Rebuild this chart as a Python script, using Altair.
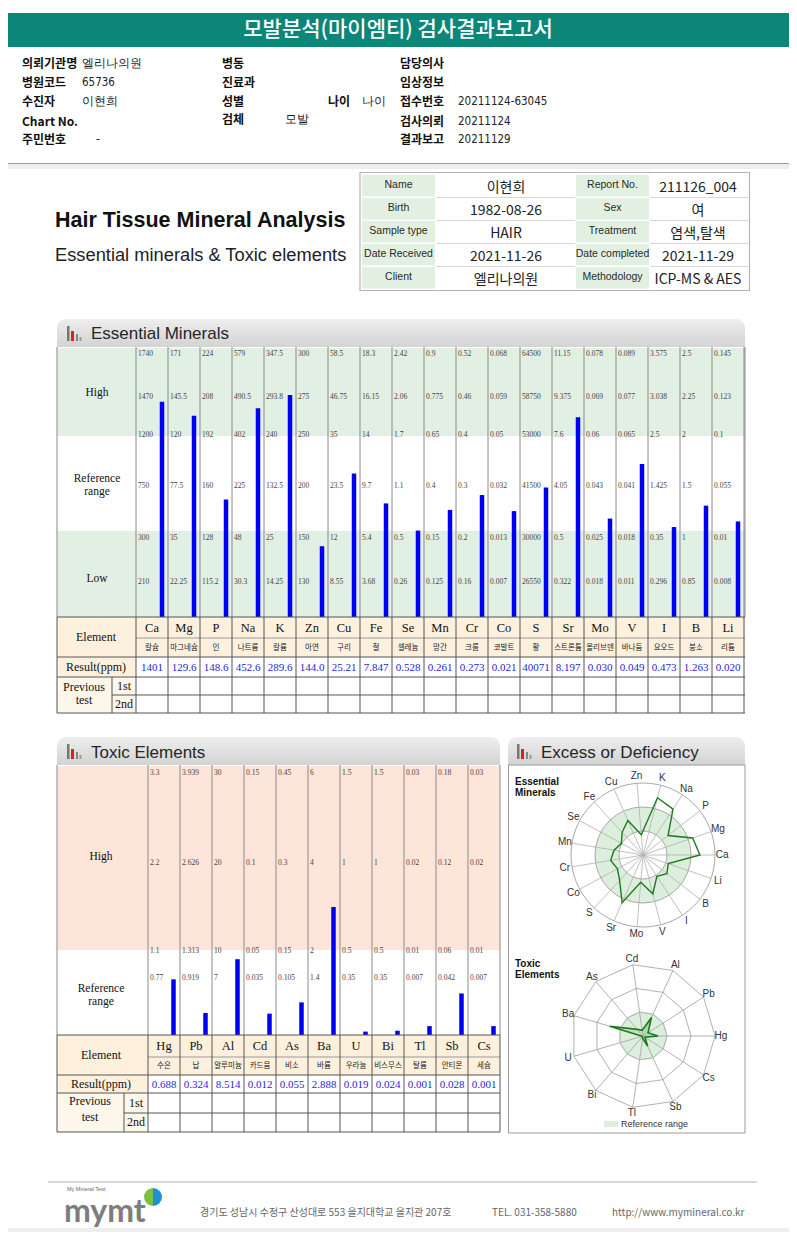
import altair as alt
import numpy as np
import pandas as pd

# ---------------- data ----------------
ess_el = ["Ca", "Mg", "P", "Na", "K", "Zn", "Cu", "Fe", "Se", "Mn", "Cr", "Co", "S", "Sr", "Mo", "V", "I", "B", "Li"]
ess_kr = ["칼슘", "마그네슘", "인", "나트륨", "칼륨", "아연", "구리", "철", "셀레늄", "망간", "크롬", "코발트", "황",
          "스트론튬", "몰리브덴", "바나듐", "요오드", "붕소", "리튬"]
ess_res_txt = ["1401", "129.6", "148.6", "452.6", "289.6", "144.0", "25.21", "7.847", "0.528", "0.261", "0.273",
               "0.021", "40071", "8.197", "0.030", "0.049", "0.473", "1.263", "0.020"]
ess_ticks = [
    ["1740", "1470", "1200", "750", "300", "210"],
    ["171", "145.5", "120", "77.5", "35", "22.25"],
    ["224", "208", "192", "160", "128", "115.2"],
    ["579", "490.5", "402", "225", "48", "30.3"],
    ["347.5", "293.8", "240", "132.5", "25", "14.25"],
    ["300", "275", "250", "200", "150", "130"],
    ["58.5", "46.75", "35", "23.5", "12", "8.55"],
    ["18.3", "16.15", "14", "9.7", "5.4", "3.68"],
    ["2.42", "2.06", "1.7", "1.1", "0.5", "0.26"],
    ["0.9", "0.775", "0.65", "0.4", "0.15", "0.125"],
    ["0.52", "0.46", "0.4", "0.3", "0.2", "0.16"],
    ["0.068", "0.059", "0.05", "0.032", "0.013", "0.007"],
    ["64500", "58750", "53000", "41500", "30000", "26550"],
    ["11.15", "9.375", "7.6", "4.05", "0.5", "0.322"],
    ["0.078", "0.069", "0.06", "0.043", "0.025", "0.018"],
    ["0.089", "0.077", "0.065", "0.041", "0.018", "0.011"],
    ["3.575", "3.038", "2.5", "1.425", "0.35", "0.296"],
    ["2.5", "2.25", "2", "1.5", "1", "0.85"],
    ["0.145", "0.123", "0.1", "0.055", "0.01", "0.008"],
]

tox_el = ["Hg", "Pb", "Al", "Cd", "As", "Ba", "U", "Bi", "Tl", "Sb", "Cs"]
tox_kr = ["수은", "납", "알루미늄", "카드뮴", "비소", "바륨", "우라늄", "비스무스", "탈륨", "안티몬", "세슘"]
tox_res_txt = ["0.688", "0.324", "8.514", "0.012", "0.055", "2.888", "0.019", "0.024", "0.001", "0.028", "0.001"]
tox_ticks = [
    ["3.3", "2.2", "1.1", "0.77"],
    ["3.939", "2.626", "1.313", "0.919"],
    ["30", "20", "10", "7"],
    ["0.15", "0.1", "0.05", "0.035"],
    ["0.45", "0.3", "0.15", "0.105"],
    ["6", "4", "2", "1.4"],
    ["1.5", "1", "0.5", "0.35"],
    ["1.5", "1", "0.5", "0.35"],
    ["0.03", "0.02", "0.01", "0.007"],
    ["0.18", "0.12", "0.06", "0.042"],
    ["0.03", "0.02", "0.01", "0.007"],
]

info_left = [("Name", "이현희"), ("Birth", "1982-08-26"), ("Sample type", "HAIR"),
             ("Date Received", "2021-11-26"), ("Client", "엘리나의원")]
info_right = [("Report No.", "211126_004"), ("Sex", "여"), ("Treatment", "염색,탈색"),
              ("Date completed", "2021-11-29"), ("Methodology", "ICP-MS & AES")]

# levels (position of a result relative to its own reference bands)
ess_res = [float(v) for v in ess_res_txt]
ess_level = []
for r, t in zip(ess_res, ess_ticks):
    th = [float(v) for v in t][::-1]
    ess_level.append(float(np.interp(r, th, [1, 2, 3, 4, 5, 6])))
tox_res = [float(v) for v in tox_res_txt]
tox_level = []
for r, t in zip(tox_res, tox_ticks):
    th = [0.0, float(t[2]), float(t[1]), float(t[0])]
    tox_level.append(float(np.interp(r, th, [0, 1, 2, 3])))

# ---------------- styles / layout ----------------
SANS = "Liberation Sans, Arial, sans-serif"
NARROW = "Liberation Sans Narrow, DejaVu Sans Condensed, Liberation Sans, sans-serif"
KR = "Noto Sans CJK KR, sans-serif"
SERIF = "Liberation Serif, DejaVu Serif, serif"
W, H = 781, 1224


def P(v):
    return v - 8


layers = []


def rect_layer(rows, **mark):
    df = pd.DataFrame(rows, columns=["x1", "x2", "y1", "y2", "f"])
    for c in ["x1", "x2", "y1", "y2"]:
        df[c] = df[c] - 8
    return alt.Chart(df).mark_rect(**mark).encode(
        x=alt.X("x1:Q", scale=None, axis=None), x2="x2:Q",
        y=alt.Y("y1:Q", scale=None, axis=None), y2="y2:Q",
        color=alt.Color("f:N", scale=None, legend=None))


def rule_layer(rows, width=1.0, **mark):
    df = pd.DataFrame(rows, columns=["x1", "y1", "x2", "y2", "c"])
    for c in ["x1", "x2", "y1", "y2"]:
        df[c] = df[c] - 8
    return alt.Chart(df).mark_rule(strokeWidth=width, **mark).encode(
        x=alt.X("x1:Q", scale=None, axis=None), x2="x2:Q",
        y=alt.Y("y1:Q", scale=None, axis=None), y2="y2:Q",
        color=alt.Color("c:N", scale=None, legend=None))


def text_layer(rows, size, font=SANS, weight="normal", align="left", color="#000", baseline="middle"):
    df = pd.DataFrame(rows, columns=["x", "y", "t"])
    df["x"] = df["x"] - 8
    df["y"] = df["y"] - 8
    return alt.Chart(df).mark_text(fontSize=size, font=font, fontWeight=weight, align=align,
                                   baseline=baseline, color=color).encode(
        x=alt.X("x:Q", scale=None, axis=None), y=alt.Y("y:Q", scale=None, axis=None), text="t:N")


GRAD = alt.Gradient(gradient="linear", x1=0, x2=0, y1=0, y2=1,
                    stops=[alt.GradientStop(offset=0, color="#eeeeee"),
                           alt.GradientStop(offset=1, color="#d3d3d3")])

# ---------------- page header ----------------
layers.append(rect_layer([(0, 797, 13, 47, "#0b8679")]))
layers.append(text_layer([(398, 30, "모발분석(마이엠티) 검사결과보고서")], 21, font=KR, weight=500,
                         align="center", color="#ffffff"))
rows_y = [64, 83, 102, 122, 140]
layers.append(text_layer([
    (22, rows_y[0], "의뢰기관명"), (22, rows_y[1], "병원코드"), (22, rows_y[2], "수진자"),
    (22, rows_y[3], "Chart No."), (22, rows_y[4], "주민번호"),
    (222, rows_y[0], "병동"), (222, rows_y[1], "진료과"), (222, rows_y[2], "성별"), (222, 120, "검체"),
    (328, rows_y[2], "나이"),
    (400, rows_y[0], "담당의사"), (400, rows_y[1], "임상정보"), (400, rows_y[2], "접수번호"),
    (400, rows_y[3], "검사의뢰"), (400, rows_y[4], "결과보고"),
], 12, font=KR, weight="bold", color="#111"))
layers.append(text_layer([
    (82, rows_y[0], "엘리나의원"), (82, rows_y[1], "65736"), (82, rows_y[2], "이현희"), (96, rows_y[4], "-"),
    (362, rows_y[2], "나이"), (285, 120, "모발"),
    (458, rows_y[2], "20211124-63045"), (458, rows_y[3], "20211124"), (458, rows_y[4], "20211129"),
], 11.5, font=NARROW, color="#222"))
layers.append(rect_layer([(0, 797, 164, 169, "#ededed")]))
layers.append(rule_layer([(0, 163.5, 797, 163.5, "#9a9a9a")], 1))

# ---------------- title ----------------
layers.append(text_layer([(55, 227, "Hair Tissue Mineral Analysis")], 21.5, font=SANS, weight="bold",
                         color="#111", baseline="alphabetic"))
layers.append(text_layer([(55, 256, "Essential minerals & Toxic elements")], 18.3, font=SANS, color="#222"))

# ---------------- info table ----------------
tops = [174.5, 197.5, 220.5, 243.5, 266.5]
cells = []
for t in tops:
    cells.append((362, 435, t + 0.5, t + 22, "#e2f0e2"))
    cells.append((576, 649, t + 0.5, t + 22, "#e2f0e2"))
layers.append(rect_layer(cells))
seps = []
for t in tops[1:]:
    seps.append((436, t, 575, t, "#d6d6d6"))
    seps.append((650, t, 748, t, "#d6d6d6"))
layers.append(rule_layer(seps, 1))
layers.append(rect_layer([(360, 749.5, 172.5, 290.5, "#b4b4b4")], filled=False, strokeWidth=1.2))
lab_rows, val_rows = [], []
for t, (a, b), (c, d) in zip(tops, info_left, info_right):
    lab_rows.append((398.5, t + 10.5, a))
    lab_rows.append((612.5, t + 10.5, c))
    val_rows.append((506, t + 13, b))
    val_rows.append((698, t + 13, d))
layers.append(text_layer(lab_rows, 10.5, font=SANS, align="center", color="#2a2a2a"))
layers.append(text_layer(val_rows, 14, font=KR, align="center", color="#222"))

# ---------------- section headers ----------------
layers.append(alt.Chart(pd.DataFrame({
    "x1": [P(57), P(57), P(508)], "x2": [P(745), P(500), P(745)],
    "y1": [P(319), P(737), P(737)], "y2": [P(347), P(765), P(765)]})).mark_rect(
    color=GRAD, cornerRadiusTopLeft=9, cornerRadiusTopRight=9).encode(
    x=alt.X("x1:Q", scale=None, axis=None), x2="x2:Q",
    y=alt.Y("y1:Q", scale=None, axis=None), y2="y2:Q"))
icons = []
for (ix, iy) in [(67, 326), (67, 744), (517, 744)]:
    icons.append((ix, ix + 2.5, iy, iy + 15, "#777777"))
    icons.append((ix + 4, ix + 7, iy + 5, iy + 15, "#e02020"))
    icons.append((ix + 9, ix + 11, iy + 8, iy + 15, "#888888"))
    icons.append((ix + 12.5, ix + 14.5, iy + 11, iy + 15, "#999999"))
layers.append(rect_layer(icons))
layers.append(text_layer([(91, 334, "Essential Minerals"), (91, 753, "Toxic Elements"),
                          (541, 753, "Excess or Deficiency")], 17, font=SANS, color="#262626"))

# ---------------- essential minerals chart ----------------
EC0, ECW = 136, 32
ESS_LINES = [617, 577, 533, 481, 430, 392, 349]
layers.append(rect_layer([(57, 745, 348, 436, "#e1f0e2"), (57, 745, 531, 617, "#e1f0e2"),
                          (57, 745, 657, 677, "#ffffff")]))
layers.append(rect_layer([(57, 745, 617, 657, "#fdf1dd"), (57, 136, 657, 677, "#fdf1dd"),
                          (57, 136, 677, 713, "#fdf6ea")]))
erules = []
for i in range(20):
    xx = EC0 + ECW * i
    erules.append((xx, 347, xx, 617, "#8a8a8a"))
erules.append((57, 347, 57, 617, "#8a8a8a"))
erules.append((745, 347, 745, 617, "#8a8a8a"))
layers.append(rule_layer(erules, 1))
layers.append(text_layer([(97, 393, "High"), (97, 479, "Reference"), (97, 491.5, "range"), (97, 579, "Low")],
                         11.5, font=SERIF, align="center", color="#111"))

ESS_X = alt.Scale(type="band", domain=ess_el, range=[P(EC0), P(EC0 + ECW * 19)], paddingInner=0, paddingOuter=0)
ESS_Y = alt.Scale(type="linear", domain=[0, 1, 2, 3, 4, 5, 6], range=[P(v) for v in ESS_LINES],
                  nice=False, zero=False)
ess_df = pd.DataFrame({"el": ess_el, "level": ess_level, "i": list(range(19)),
                       "kr": ess_kr, "res": ess_res_txt})
tick_rows = []
for el, tk in zip(ess_el, ess_ticks):
    for lv, s in zip([6, 5, 4, 3, 2, 1], tk):
        tick_rows.append({"el": el, "lv": lv, "s": s})
layers.append(alt.Chart(pd.DataFrame(tick_rows)).mark_text(
    align="left", baseline="top", dx=-14, dy=1, fontSize=7.5, font=SERIF, color="#444").encode(
    x=alt.X("el:N", scale=ESS_X, axis=None), y=alt.Y("lv:Q", scale=ESS_Y, axis=None), text="s:N"))
layers.append(alt.Chart(ess_df).mark_bar(width=4.5, xOffset=10, color="#0000f0").encode(
    x=alt.X("el:N", scale=ESS_X, axis=None), y=alt.Y("level:Q", scale=ESS_Y, axis=None)))

# element table
trules = [(57, 617, 745, 617, "#555"), (136, 638, 745, 638, "#999"), (57, 657, 745, 657, "#555"),
          (57, 677, 745, 677, "#555"), (112, 695, 745, 695, "#555"), (57, 713, 745, 713, "#555"),
          (57, 617, 57, 713, "#555"), (112, 677, 112, 713, "#555")]
for i in range(20):
    xx = EC0 + ECW * i
    trules.append((xx, 617, xx, 713, "#555"))
layers.append(rule_layer(trules, 1))
layers.append(text_layer([(96, 637, "Element"), (96, 667, "Result(ppm)"), (84, 687, "Previous"),
                          (84, 700, "test"), (124, 686, "1st"), (124, 704, "2nd")],
                         12, font=SERIF, align="center", color="#111"))
layers.append(alt.Chart(ess_df).mark_text(fontSize=12.5, font=SERIF, color="#111").encode(
    x=alt.X("el:N", scale=ESS_X, axis=None), y=alt.value(P(628)), text="el:N"))
layers.append(alt.Chart(ess_df).mark_text(fontSize=7.5, font=KR, color="#222").encode(
    x=alt.X("el:N", scale=ESS_X, axis=None), y=alt.value(P(648)), text="kr:N"))
layers.append(alt.Chart(ess_df).mark_text(fontSize=11, font=SERIF, color="#1f1fd6").encode(
    x=alt.X("el:N", scale=ESS_X, axis=None), y=alt.value(P(667.5)), text="res:N"))

# ---------------- toxic elements chart ----------------
TC0, TCW = 148, 32
TOX_LINES = [1035, 946, 858, 768]
layers.append(rect_layer([(57, 500, 766, 950, "#fde5da"), (57, 500, 1035, 1075, "#fdf1dd"),
                          (57, 148, 1075, 1093, "#fdf1dd"), (57, 148, 1093, 1132, "#fdf6ea")]))
trul = []
for i in range(12):
    xx = TC0 + TCW * i
    trul.append((xx, 765, xx, 1035, "#8a8a8a"))
trul.append((57, 765, 57, 1035, "#8a8a8a"))
layers.append(rule_layer(trul, 1))
layers.append(text_layer([(101, 857, "High"), (101, 989, "Reference"), (101, 1001.5, "range")],
                         11.5, font=SERIF, align="center", color="#111"))
TOX_X = alt.Scale(type="band", domain=tox_el, range=[P(TC0), P(TC0 + TCW * 11)], paddingInner=0, paddingOuter=0)
TOX_Y = alt.Scale(type="linear", domain=[0, 1, 2, 3], range=[P(v) for v in TOX_LINES], nice=False, zero=False)
tox_df = pd.DataFrame({"el": tox_el, "level": tox_level, "i": list(range(11)), "kr": tox_kr,
                       "res": tox_res_txt})
ttick = []
for el, tk in zip(tox_el, tox_ticks):
    for lv, s in zip([3, 2, 1, 0.7], tk):
        ttick.append({"el": el, "lv": lv, "s": s})
layers.append(alt.Chart(pd.DataFrame(ttick)).mark_text(
    align="left", baseline="top", dx=-14, dy=1, fontSize=7.5, font=SERIF, color="#444").encode(
    x=alt.X("el:N", scale=TOX_X, axis=None), y=alt.Y("lv:Q", scale=TOX_Y, axis=None), text="s:N"))
layers.append(alt.Chart(tox_df).mark_bar(width=4.5, xOffset=9.5, color="#0000f0").encode(
    x=alt.X("el:N", scale=TOX_X, axis=None), y=alt.Y("level:Q", scale=TOX_Y, axis=None)))
tt = [(57, 1035, 500, 1035, "#555"), (148, 1057, 500, 1057, "#999"), (57, 1075, 500, 1075, "#555"),
      (57, 1093, 500, 1093, "#555"), (124, 1113, 500, 1113, "#555"), (57, 1132, 500, 1132, "#555"),
      (57, 1035, 57, 1132, "#555"), (124, 1093, 124, 1132, "#555")]
for i in range(12):
    xx = TC0 + TCW * i
    tt.append((xx, 1035, xx, 1132, "#555"))
layers.append(rule_layer(tt, 1))
layers.append(text_layer([(101, 1055, "Element"), (101, 1084, "Result(ppm)"), (90, 1101, "Previous"),
                          (90, 1117, "test"), (136, 1103, "1st"), (136, 1122, "2nd")],
                         12, font=SERIF, align="center", color="#111"))
layers.append(alt.Chart(tox_df).mark_text(fontSize=12.5, font=SERIF, color="#111").encode(
    x=alt.X("el:N", scale=TOX_X, axis=None), y=alt.value(P(1046)), text="el:N"))
layers.append(alt.Chart(tox_df).mark_text(fontSize=7.5, font=KR, color="#222").encode(
    x=alt.X("el:N", scale=TOX_X, axis=None), y=alt.value(P(1066)), text="kr:N"))
layers.append(alt.Chart(tox_df).mark_text(fontSize=11, font=SERIF, color="#1f1fd6").encode(
    x=alt.X("el:N", scale=TOX_X, axis=None), y=alt.value(P(1084.5)), text="res:N"))

# ---------------- excess / deficiency panel ----------------
layers.append(rect_layer([(508.5, 745, 765, 1133, "#9a9a9a")], filled=False, strokeWidth=1))
layers.append(text_layer([(515, 782, "Essential"), (515, 793, "Minerals"), (515, 964, "Toxic"),
                          (515, 975, "Elements")], 10, font=SANS, weight="bold", color="#111"))
one = pd.DataFrame({"a": [0]})

# essential radar
ECX, ECY, ESTEP = 643, 855, 12
RX = alt.Scale(domain=[-6, 6], range=[P(ECX - 6 * ESTEP), P(ECX + 6 * ESTEP)], nice=False, zero=False)
RY = alt.Scale(domain=[-6, 6], range=[P(ECY + 6 * ESTEP), P(ECY - 6 * ESTEP)], nice=False, zero=False)
layers.append(alt.Chart(one).mark_arc(radius=4 * ESTEP, radius2=2 * ESTEP, theta=0, theta2=6.2832,
                                      color="#dcefdc").encode(x=alt.value(P(ECX)), y=alt.value(P(ECY))))
for lv in [2, 4, 6]:
    layers.append(alt.Chart(one).mark_arc(radius=lv * ESTEP, theta=0, theta2=6.2832, filled=False,
                                          stroke="#a8a8a8", strokeWidth=1).encode(
        x=alt.value(P(ECX)), y=alt.value(P(ECY))))
erad = alt.Chart(ess_df).transform_calculate(
    ang="datum.i*2*PI/19", z="0",
    ox="6*cos(datum.ang)", oy="6*sin(datum.ang)",
    lx="6.6*cos(datum.ang)", ly="6.6*sin(datum.ang)",
    rx="datum.level*cos(datum.ang)", ry="datum.level*sin(datum.ang)")
layers.append(erad.mark_rule(color="#b0b0b0", strokeWidth=0.8).encode(
    x=alt.X("z:Q", scale=RX, axis=None), x2="ox:Q", y=alt.Y("z:Q", scale=RY, axis=None), y2="oy:Q"))
layers.append(erad.mark_line(interpolate="linear-closed", color="#1f7a1f", strokeWidth=1.4).encode(
    x=alt.X("rx:Q", scale=RX, axis=None), y=alt.Y("ry:Q", scale=RY, axis=None), order="i:Q"))
layers.append(erad.mark_text(fontSize=10, font=SANS, color="#333").encode(
    x=alt.X("lx:Q", scale=RX, axis=None), y=alt.Y("ly:Q", scale=RY, axis=None), text="el:N"))

# toxic radar
TCX, TCY, TSTEP = 643, 1036, 24
TRX = alt.Scale(domain=[-3, 3], range=[P(TCX - 3 * TSTEP), P(TCX + 3 * TSTEP)], nice=False, zero=False)
TRY = alt.Scale(domain=[-3, 3], range=[P(TCY + 3 * TSTEP), P(TCY - 3 * TSTEP)], nice=False, zero=False)
layers.append(alt.Chart(one).mark_arc(radius=TSTEP, theta=0, theta2=6.2832, color="#dcefdc").encode(
    x=alt.value(P(TCX)), y=alt.value(P(TCY))))
grid = pd.DataFrame([{"ring": r, "i": i} for r in [1, 2, 3] for i in range(11)])
layers.append(alt.Chart(grid).transform_calculate(
    ang="datum.i*2*PI/11", gx="datum.ring*cos(datum.ang)", gy="datum.ring*sin(datum.ang)").mark_line(
    interpolate="linear-closed", color="#a8a8a8", strokeWidth=0.9).encode(
    x=alt.X("gx:Q", scale=TRX, axis=None), y=alt.Y("gy:Q", scale=TRY, axis=None),
    detail="ring:N", order="i:Q"))
trad = alt.Chart(tox_df).transform_calculate(
    ang="datum.i*2*PI/11", z="0",
    ox="3*cos(datum.ang)", oy="3*sin(datum.ang)",
    lx="3.25*cos(datum.ang)", ly="3.25*sin(datum.ang)",
    rx="datum.level*cos(datum.ang)", ry="datum.level*sin(datum.ang)")
layers.append(trad.mark_rule(color="#a8a8a8", strokeWidth=0.9).encode(
    x=alt.X("z:Q", scale=TRX, axis=None), x2="ox:Q", y=alt.Y("z:Q", scale=TRY, axis=None), y2="oy:Q"))
layers.append(trad.mark_line(interpolate="linear-closed", color="#1f7a1f", strokeWidth=1.6,
                             fill="#9ed39e", fillOpacity=0.5).encode(
    x=alt.X("rx:Q", scale=TRX, axis=None), y=alt.Y("ry:Q", scale=TRY, axis=None), order="i:Q"))
layers.append(trad.mark_text(fontSize=10, font=SANS, color="#333").encode(
    x=alt.X("lx:Q", scale=TRX, axis=None), y=alt.Y("ly:Q", scale=TRY, axis=None), text="el:N"))
layers.append(rect_layer([(604, 618, 1121, 1127, "#dcefdc")]))
layers.append(text_layer([(621, 1124, "Reference range")], 9, font=SANS, color="#333"))

# ---------------- footer ----------------
layers.append(rule_layer([(48, 1182, 757, 1182, "#b0b0b0")], 1))
layers.append(text_layer([(64, 1222, "mymt")], 32, font="Lato, sans-serif", weight="bold", color="#7d7d7d",
                         baseline="alphabetic"))
layers.append(text_layer([(67, 1189, "My Mineral Test")], 5.5, font=SANS, color="#666"))
layers.append(alt.Chart(one).mark_arc(radius=9, theta=3.1416, theta2=6.2832, color="#7cc142").encode(
    x=alt.value(P(153)), y=alt.value(P(1197))))
layers.append(alt.Chart(one).mark_arc(radius=9, theta=0, theta2=3.1416, color="#1f8fd6").encode(
    x=alt.value(P(153)), y=alt.value(P(1197))))
layers.append(text_layer([(200, 1213, "경기도 성남시 수정구 산성대로 553 을지대학교 을지관 207호"),
                          (492, 1213, "TEL. 031-358-5880"), (612, 1213, "http://www.mymineral.co.kr")],
                         10, font=KR, color="#666"))
layers.append(rect_layer([(0, 797, 1228, 1240, "#eeeeee")]))

chart = alt.layer(*layers).resolve_scale(x="independent", y="independent").properties(
    width=W, height=H, padding=0, autosize=alt.AutoSizeParams(type="none")).configure_view(stroke=None)

chart.save("out.html", embed_options={"renderer": "svg", "actions": False})
